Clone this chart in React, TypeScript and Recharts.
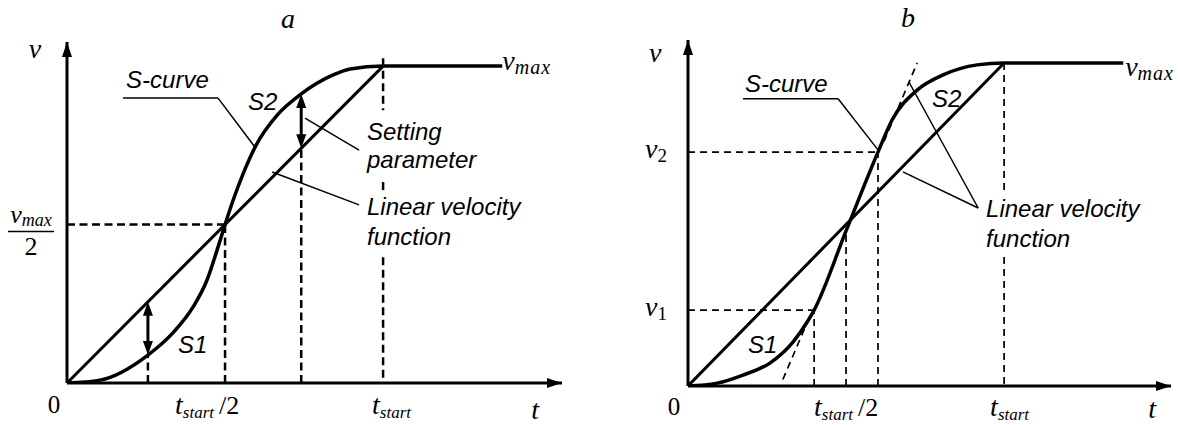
import React from 'react';
import { ComposedChart, Line, XAxis, YAxis, ReferenceLine, ReferenceDot } from 'recharts';

const SANS = '"Liberation Sans", Arial, Helvetica, sans-serif';
const SERIF = '"Liberation Serif", "Times New Roman", Times, serif';
const INK = '#000';

// time in units of t_start, velocity in units of v_max
const T_START = 1;
const V_MAX = 1;
const PLATEAU_END = 1.377;

// (a) symmetric S-curve
const sTimesA = [0, 0.104, 0.256, 0.335, 0.399, 0.443, 0.475, 0.5, 0.525, 0.557, 0.598, 0.665, 0.741, 0.842, 0.896, 1, PLATEAU_END];
const sVelsA = [0, 0.009, 0.088, 0.158, 0.24, 0.325, 0.42, 0.5, 0.575, 0.66, 0.75, 0.845, 0.912, 0.972, 0.991, 1, 1];

// (b) S-curve with a straight middle section between v1 and v2
const sTimesB = [0, 0.092, 0.174, 0.259, 0.332, 0.377, 0.399, 0.5, 0.601, 0.646, 0.725, 0.807, 0.915, 1, PLATEAU_END];
const sVelsB = [0, 0.009, 0.034, 0.071, 0.136, 0.198, 0.235, 0.48, 0.724, 0.824, 0.916, 0.963, 0.994, 1, 1];

const linearTimes = [0, T_START];
const linearVels = [0, V_MAX];

// where the double arrows measure the gap between the curves in (a)
const gapTimes = [0.256, 0.741];
const gapCurveVels = [0.088, 0.912];

// ends of the straight section in (b)
const kneeTimes = [0.399, 0.601];
const kneeVels = [0.235, 0.724];

const rows = (ts: number[], vs: number[]) => ts.map((t, i) => ({ t, v: vs[i] }));
const linearAt = (t: number) => (t / T_START) * V_MAX;

// ---------- shapes ----------
const ArrowUp = (p: any) => (
  <polygon points={`${p.cx},${p.cy} ${p.cx - 5},${p.cy + 15} ${p.cx + 5},${p.cy + 15}`} fill={INK} />
);
const ArrowRight = (p: any) => (
  <polygon points={`${p.cx},${p.cy} ${p.cx - 15},${p.cy - 5} ${p.cx - 15},${p.cy + 5}`} fill={INK} />
);

const DoubleArrow = (p: any) => {
  const x = p.x1;
  const top = Math.min(p.y1, p.y2);
  const bot = Math.max(p.y1, p.y2);
  return (
    <g>
      <line x1={x} y1={top + 8} x2={x} y2={bot - 8} stroke={INK} strokeWidth={3} />
      <polygon points={`${x},${top} ${x - 5},${top + 14} ${x + 5},${top + 14}`} fill={INK} />
      <polygon points={`${x},${bot} ${x - 5},${bot - 14} ${x + 5},${bot - 14}`} fill={INK} />
    </g>
  );
};

const textShape = (content: React.ReactNode, props: any) => (p: any) => (
  <text x={p.cx} y={p.cy} fill={INK} {...props}>
    {content}
  </text>
);

const sansItalic = { fontFamily: SANS, fontStyle: 'italic', fontSize: 24 };
const serifItalic = { fontFamily: SERIF, fontStyle: 'italic', fontSize: 28 };

const vMaxText = (
  <>
    <tspan>v</tspan>
    <tspan fontSize={20} dy={4} letterSpacing={1}>max</tspan>
  </>
);

const tStartText = (half: boolean) => (
  <>
    <tspan>t</tspan>
    <tspan fontSize={17} dy={4}>start</tspan>
    {half && (
      <tspan fontSize={26} fontStyle="normal" dx={5} dy={-4}>/2</tspan>
    )}
  </>
);

// x tick labels: offsets from the tick position
const xTickOffsetsA: Record<string, { dx: number; dy: number }> = {
  '0': { dx: -13, dy: 30 },
  '0.5': { dx: -50, dy: 31 },
  '1': { dx: -11, dy: 31 },
};
const xTickOffsetsB: Record<string, { dx: number; dy: number }> = {
  '0': { dx: -14, dy: 29 },
  '0.5': { dx: -32, dy: 30 },
  '1': { dx: -14, dy: 30 },
};

const makeXTick = (offsets: Record<string, { dx: number; dy: number }>) => (p: any) => {
  const value = p.payload.value;
  const o = offsets[String(value)];
  if (!o) return <g />;
  if (value === 0) {
    return (
      <text x={p.x + o.dx} y={p.y + o.dy} textAnchor="middle" fontFamily={SERIF} fontSize={25} fill={INK}>
        0
      </text>
    );
  }
  return (
    <text x={p.x + o.dx} y={p.y + o.dy} textAnchor="start" fill={INK} {...serifItalic}>
      {tStartText(value === T_START / 2)}
    </text>
  );
};

const HalfVmaxTick = (p: any) => {
  const cx = p.x - 36;
  const cy = p.y;
  return (
    <g fill={INK}>
      <text x={cx} y={cy - 2} textAnchor="middle" fontFamily={SERIF} fontStyle="italic" fontSize={26}>
        <tspan>v</tspan>
        <tspan fontSize={18} dy={3}>max</tspan>
      </text>
      <line x1={cx - 23} y1={cy + 7} x2={cx + 23} y2={cy + 7} stroke={INK} strokeWidth={1.5} />
      <text x={cx} y={cy + 30} textAnchor="middle" fontFamily={SERIF} fontSize={26}>
        2
      </text>
    </g>
  );
};

const KneeTick = (p: any) => {
  const idx = kneeVels.indexOf(p.payload.value);
  return (
    <text x={p.x - 43} y={p.y + 6} fill={INK} fontFamily={SERIF} fontStyle="italic" fontSize={28}>
      <tspan>v</tspan>
      <tspan fontSize={19} fontStyle="normal" dy={4}>{idx + 1}</tspan>
    </text>
  );
};

const axisStyle = { stroke: INK, strokeWidth: 3 };

// ---------- panel (a) ----------
const DASH_A = { stroke: INK, strokeWidth: 2.5, strokeDasharray: '8 4.5' };
const LEADER = { stroke: INK, strokeWidth: 1.5 };

const notesA = [
  { text: 'S-curve', t: 0.187, v: 0.931 },
  { text: 'S2', t: 0.573, v: 0.861 },
  { text: 'S1', t: 0.351, v: 0.095 },
  { text: 'Setting', t: 0.949, v: 0.767 },
  { text: 'parameter', t: 0.949, v: 0.678 },
  { text: 'Linear velocity', t: 0.949, v: 0.53 },
  { text: 'function', t: 0.949, v: 0.435 },
];

const leadersA = [
  [[0.177, 0.899], [0.478, 0.899]],
  [[0.478, 0.899], [0.595, 0.744]],
  [[0.753, 0.836], [0.924, 0.735]],
  [[0.649, 0.666], [0.924, 0.562]],
];

// t_start guide is broken where the notes sit
const tStartGuideA = [
  [1.025, 0.861],
  [0.634, 0.599],
  [0.397, 0],
];

const seg = (a: number[], b: number[]) => [
  { x: a[0], y: a[1] },
  { x: b[0], y: b[1] },
];

function PanelA() {
  const xMax = 1.566;
  const yMax = 1.076;
  return (
    <ComposedChart width={589} height={425} margin={{ top: 42, right: 27, bottom: 2, left: 7 }}>
      <XAxis
        type="number"
        dataKey="t"
        domain={[0, xMax]}
        allowDataOverflow
        ticks={[0, T_START / 2, T_START]}
        interval={0}
        tick={makeXTick(xTickOffsetsA)}
        tickLine={false}
        tickSize={0}
        tickMargin={0}
        axisLine={axisStyle}
        height={40}
      />
      <YAxis
        type="number"
        domain={[0, yMax]}
        allowDataOverflow
        ticks={[V_MAX / 2]}
        interval={0}
        tick={HalfVmaxTick}
        tickLine={false}
        tickSize={0}
        tickMargin={0}
        axisLine={axisStyle}
        width={60}
      />

      {/* dashed guides */}
      <ReferenceLine segment={seg([0, V_MAX / 2], [T_START / 2, V_MAX / 2])} {...DASH_A} ifOverflow="visible" />
      <ReferenceLine segment={seg([T_START / 2, 0], [T_START / 2, V_MAX / 2])} {...DASH_A} ifOverflow="visible" />
      <ReferenceLine segment={seg([gapTimes[0], 0], [gapTimes[0], gapCurveVels[0]])} {...DASH_A} ifOverflow="visible" />
      <ReferenceLine segment={seg([gapTimes[1], 0], [gapTimes[1], linearAt(gapTimes[1])])} {...DASH_A} ifOverflow="visible" />
      {tStartGuideA.map(([a, b], i) => (
        <ReferenceLine key={`ts${i}`} segment={seg([T_START, a], [T_START, b])} {...DASH_A} ifOverflow="visible" />
      ))}

      {/* leader lines */}
      {leadersA.map(([a, b], i) => (
        <ReferenceLine key={`ld${i}`} segment={seg(a, b)} {...LEADER} ifOverflow="visible" />
      ))}

      <Line data={rows(linearTimes, linearVels)} dataKey="v" type="linear" stroke={INK} strokeWidth={3} dot={false} isAnimationActive={false} />
      <Line data={rows(sTimesA, sVelsA)} dataKey="v" type="monotone" stroke={INK} strokeWidth={3.5} dot={false} isAnimationActive={false} />

      {/* gap arrows */}
      {gapTimes.map((t, i) => (
        <ReferenceLine key={`ga${i}`} segment={seg([t, gapCurveVels[i]], [t, linearAt(t)])} shape={DoubleArrow} ifOverflow="visible" />
      ))}

      {/* axis arrows */}
      <ReferenceDot x={0} y={yMax} r={1} shape={ArrowUp} ifOverflow="visible" />
      <ReferenceDot x={xMax} y={0} r={1} shape={ArrowRight} ifOverflow="visible" />

      {notesA.map((n) => (
        <ReferenceDot key={n.text} x={n.t} y={n.v} r={1} ifOverflow="visible" shape={textShape(n.text, sansItalic)} />
      ))}
      <ReferenceDot x={0.699} y={1.12} r={1} ifOverflow="visible" shape={textShape('a', { ...serifItalic, textAnchor: 'middle' })} />
      <ReferenceDot x={-0.101} y={1.025} r={1} ifOverflow="visible" shape={textShape('v', { ...serifItalic, textAnchor: 'middle' })} />
      <ReferenceDot x={1.481} y={-0.115} r={1} ifOverflow="visible" shape={textShape('t', { ...serifItalic, textAnchor: 'middle' })} />
      <ReferenceDot x={PLATEAU_END} y={0.987} r={1} ifOverflow="visible" shape={textShape(vMaxText, serifItalic)} />
    </ComposedChart>
  );
}

// ---------- panel (b) ----------
const DASH_B = { stroke: INK, strokeWidth: 1.7, strokeDasharray: '7 5' };

const notesB = [
  { text: 'S-curve', t: 0.18, v: 0.91 },
  { text: 'S2', t: 0.772, v: 0.864 },
  { text: 'S1', t: 0.19, v: 0.102 },
  { text: 'Linear velocity', t: 0.943, v: 0.523 },
  { text: 'function', t: 0.943, v: 0.43 },
];

const leadersB = [
  [[0.174, 0.889], [0.475, 0.889]],
  [[0.475, 0.889], [0.601, 0.731]],
  [[0.699, 0.941], [0.918, 0.551]],
  [[0.68, 0.663], [0.918, 0.551]],
];

// tangents continuing the straight section
const tangentsB = [
  [[0.3, 0.02], [0.386, 0.217]],
  [[0.62, 0.757], [0.725, 1.0]],
];

const tStartGuideB = [
  [1, 0.598],
  [0.399, 0],
];

function PanelB() {
  const xMax = 1.528;
  const yMax = 1.071;
  return (
    <ComposedChart width={589} height={425} margin={{ top: 40, right: 7, bottom: 3, left: 39 }}>
      <XAxis
        type="number"
        dataKey="t"
        domain={[0, xMax]}
        allowDataOverflow
        ticks={[0, T_START / 2, T_START]}
        interval={0}
        tick={makeXTick(xTickOffsetsB)}
        tickLine={false}
        tickSize={0}
        tickMargin={0}
        axisLine={axisStyle}
        height={36}
      />
      <YAxis
        type="number"
        domain={[0, yMax]}
        allowDataOverflow
        ticks={kneeVels}
        interval={0}
        tick={KneeTick}
        tickLine={false}
        tickSize={0}
        tickMargin={0}
        axisLine={axisStyle}
        width={60}
      />

      {/* dashed guides */}
      {kneeTimes.map((t, i) => (
        <ReferenceLine key={`kh${i}`} segment={seg([0, kneeVels[i]], [t, kneeVels[i]])} {...DASH_B} ifOverflow="visible" />
      ))}
      {kneeTimes.map((t, i) => (
        <ReferenceLine key={`kv${i}`} segment={seg([t, 0], [t, kneeVels[i]])} {...DASH_B} ifOverflow="visible" />
      ))}
      <ReferenceLine segment={seg([T_START / 2, 0], [T_START / 2, 0.48])} {...DASH_B} ifOverflow="visible" />
      {tStartGuideB.map(([a, b], i) => (
        <ReferenceLine key={`ts${i}`} segment={seg([T_START, a], [T_START, b])} {...DASH_B} ifOverflow="visible" />
      ))}
      {tangentsB.map(([a, b], i) => (
        <ReferenceLine key={`tg${i}`} segment={seg(a, b)} {...DASH_B} ifOverflow="visible" />
      ))}

      {leadersB.map(([a, b], i) => (
        <ReferenceLine key={`ld${i}`} segment={seg(a, b)} {...LEADER} ifOverflow="visible" />
      ))}

      <Line data={rows(linearTimes, linearVels)} dataKey="v" type="linear" stroke={INK} strokeWidth={3} dot={false} isAnimationActive={false} />
      <Line data={rows(sTimesB, sVelsB)} dataKey="v" type="monotone" stroke={INK} strokeWidth={3.5} dot={false} isAnimationActive={false} />

      <ReferenceDot x={0} y={yMax} r={1} shape={ArrowUp} ifOverflow="visible" />
      <ReferenceDot x={xMax} y={0} r={1} shape={ArrowRight} ifOverflow="visible" />

      {notesB.map((n) => (
        <ReferenceDot key={n.text} x={n.t} y={n.v} r={1} ifOverflow="visible" shape={textShape(n.text, sansItalic)} />
      ))}
      <ReferenceDot x={0.696} y={1.111} r={1} ifOverflow="visible" shape={textShape('b', { ...serifItalic, textAnchor: 'middle' })} />
      <ReferenceDot x={-0.104} y={1.003} r={1} ifOverflow="visible" shape={textShape('v', { ...serifItalic, textAnchor: 'middle' })} />
      <ReferenceDot x={1.468} y={-0.1} r={1} ifOverflow="visible" shape={textShape('t', { ...serifItalic, textAnchor: 'middle' })} />
      <ReferenceDot x={PLATEAU_END + 0.006} y={0.96} r={1} ifOverflow="visible" shape={textShape(vMaxText, serifItalic)} />
    </ComposedChart>
  );
}

export default function App() {
  return (
    <div style={{ position: 'fixed', left: 0, top: 0, width: 1178, height: 425, background: '#fff' }}>
      <div style={{ position: 'absolute', left: 0, top: 0 }}>
        <PanelA />
      </div>
      <div style={{ position: 'absolute', left: 589, top: 0 }}>
        <PanelB />
      </div>
    </div>
  );
}
